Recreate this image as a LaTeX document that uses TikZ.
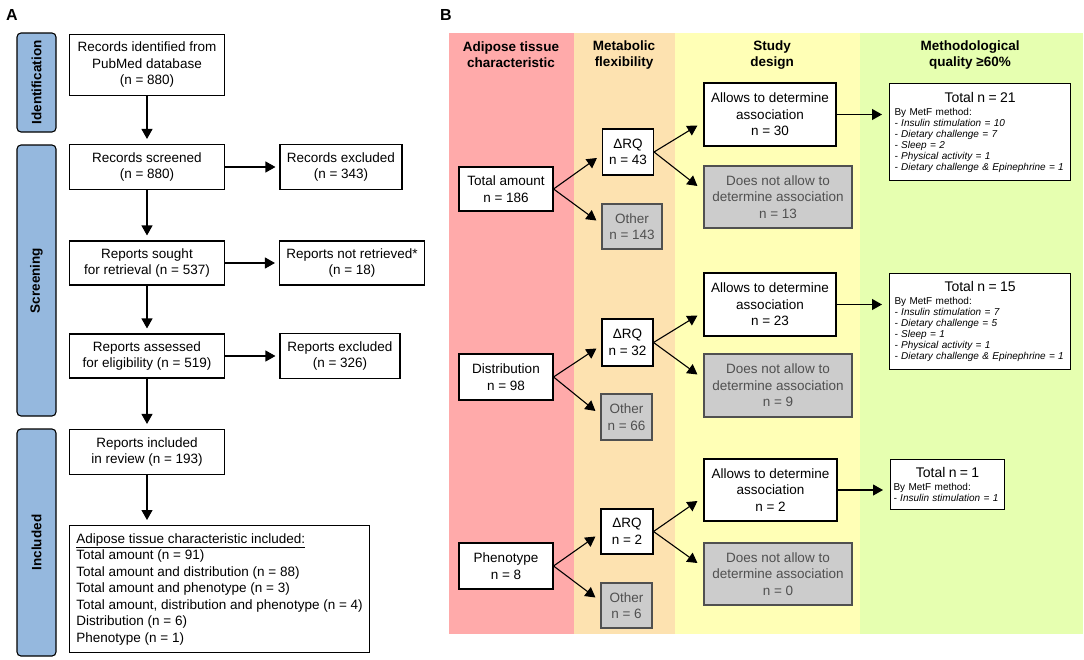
\documentclass[tikz,border=0pt]{standalone}
\usepackage{fontspec}
\setmainfont{Liberation Sans}
\usetikzlibrary{calc,arrows.meta}

\definecolor{phaseblue}{RGB}{149,184,222}
\definecolor{colred}{RGB}{255,170,170}
\definecolor{colorange}{RGB}{253,226,176}
\definecolor{colyellow}{RGB}{255,255,182}
\definecolor{colgreen}{RGB}{230,255,176}
\definecolor{boxgray}{RGB}{204,204,204}
\definecolor{textgray}{RGB}{80,80,80}

\begin{document}
\begin{tikzpicture}[x=1pt, y=-1pt,
    box/.style={draw, line width=1.1pt, fill=white, align=center, inner sep=2pt, font=\fontsize{13.5}{16.5}\selectfont},
    greybox/.style={box, draw=textgray, fill=boxgray, text=textgray},
    phase/.style={draw, line width=1.1pt, fill=phaseblue, rounded corners=4pt, rotate=90, font=\bfseries\fontsize{13.5}{16}\selectfont},
    head/.style={align=center, font=\bfseries\fontsize{13.5}{16}\selectfont},
    total/.style={draw, line width=1.1pt, fill=white, anchor=north west, align=left, inner xsep=5pt, inner ysep=3pt, font=\fontsize{10}{11}\selectfont},
    arr/.style={-{Triangle[length=10pt,width=11pt]}, line width=1.1pt},
    panel/.style={font=\bfseries\fontsize{16}{18}\selectfont}
  ]
    \useasboundingbox (0,0) rectangle (1084,659);

    \node[panel] (pa) at (12,15) {A};
    \node[panel] (pb) at (446,15) {B};

    \node[phase, minimum width=99pt, minimum height=39pt] (ident) at (36.5,82.5) {Identification};
    \node[phase, minimum width=271pt, minimum height=39pt] (screen) at (36.5,280.5) {Screening};
    \node[phase, minimum width=227pt, minimum height=39pt] (incl) at (36.5,542.5) {Included};

    \node[box, minimum width=155pt, minimum height=61pt] (rec) at (147,65) {Records identified from\\PubMed database\\(n = 880)};
    \node[box, minimum width=155pt, minimum height=45pt] (scr) at (147,167) {Records screened\\(n = 880)};
    \node[box, minimum width=122pt, minimum height=45pt] (exc1) at (341,167) {Records excluded\\(n = 343)};
    \node[box, minimum width=155pt, minimum height=44pt] (sought) at (147,263) {Reports sought\\for retrieval (n = 537)};
    \node[box, minimum width=145pt, minimum height=44pt] (notret) at (352,263) {Reports not retrieved*\\(n = 18)};
    \node[box, minimum width=155pt, minimum height=44pt] (assess) at (147,356) {Reports assessed\\for eligibility (n = 519)};
    \node[box, minimum width=120pt, minimum height=45pt] (exc2) at (340,356) {Reports excluded\\(n = 326)};
    \node[box, minimum width=155pt, minimum height=45pt] (rev) at (147,452) {Reports included\\in review (n = 193)};
    \node[box, anchor=north west, align=left, inner xsep=6pt, minimum width=300pt, minimum height=127pt] (list) at (69,525)
        {\underline{Adipose tissue characteristic included:}\\Total amount (n = 91)\\Total amount and distribution (n = 88)\\Total amount and phenotype (n = 3)\\Total amount, distribution and phenotype (n = 4)\\Distribution (n = 6)\\Phenotype (n = 1)};

    \draw[arr, shorten >=5pt] (rec) -- (scr);
    \draw[arr, shorten >=5pt] (scr) -- (sought);
    \draw[arr, shorten >=5pt] (sought) -- (assess);
    \draw[arr, shorten >=5pt] (assess) -- (rev);
    \draw[arr, shorten >=5pt] (rev.south) -- (rev.south |- list.north);
    \draw[arr, shorten >=4pt] (scr) -- (exc1);
    \draw[arr, shorten >=4pt] (sought) -- (notret);
    \draw[arr, shorten >=4pt] (assess) -- (exc2);

    \fill[colred] (449,33) rectangle (574,634);
    \fill[colorange] (574,33) rectangle (675,634);
    \fill[colyellow] (675,33) rectangle (860,634);
    \fill[colgreen] (860,33) rectangle (1083,634);

    \node[head] (h1) at (511,55) {Adipose tissue\\characteristic};
    \node[head] (h2) at (624,55) {Metabolic\\flexibility};
    \node[head] (h3) at (772,55) {Study\\design};
    \node[head] (h4) at (970,55) {Methodological\\quality ≥60\%};

    \node[box, minimum width=94pt, minimum height=44pt] (tot) at (506,189) {Total amount\\n = 186};
    \node[box, minimum width=51pt, minimum height=46pt] (rq1) at (628,152) {ΔRQ\\n = 43};
    \node[greybox, minimum width=60pt, minimum height=45pt] (oth1) at (632,226.5) {Other\\n = 143};
    \node[box, minimum width=132pt, minimum height=63pt] (al1) at (770,114.5) {Allows to determine\\association\\n = 30};
    \node[greybox, minimum width=148pt, minimum height=62pt] (dn1) at (778,197) {Does not allow to\\determine association\\n = 13};
    \node[total, text width=171pt, minimum height=97pt] (t1) at (889,83)
        {{\centering\fontsize{14}{16}\selectfont Total n = 21\par}\vspace{2pt}
         By MetF method:\\\textit{- Insulin stimulation = 10}\\\textit{- Dietary challenge = 7}\\\textit{- Sleep = 2}\\\textit{- Physical activity = 1}\\\textit{- Dietary challenge \& Epinephrine = 1}};

    \node[box, minimum width=94pt, minimum height=46pt] (dist) at (506,377) {Distribution\\n = 98};
    \node[box, minimum width=51pt, minimum height=47pt] (rq2) at (627.5,342.5) {ΔRQ\\n = 32};
    \node[greybox, minimum width=51pt, minimum height=46pt] (oth2) at (626.5,417) {Other\\n = 66};
    \node[box, minimum width=132pt, minimum height=63pt] (al2) at (770,304.5) {Allows to determine\\association\\n = 23};
    \node[greybox, minimum width=148pt, minimum height=63pt] (dn2) at (778,385.5) {Does not allow to\\determine association\\n = 9};
    \node[total, text width=171pt, minimum height=96pt] (t2) at (889,273)
        {{\centering\fontsize{14}{16}\selectfont Total n = 15\par}\vspace{2pt}
         By MetF method:\\\textit{- Insulin stimulation = 7}\\\textit{- Dietary challenge = 5}\\\textit{- Sleep = 1}\\\textit{- Physical activity = 1}\\\textit{- Dietary challenge \& Epinephrine = 1}};

    \node[box, minimum width=94pt, minimum height=46pt] (phen) at (506,566) {Phenotype\\n = 8};
    \node[box, minimum width=52pt, minimum height=45pt] (rq3) at (627,531.5) {ΔRQ\\n = 2};
    \node[greybox, minimum width=51pt, minimum height=45pt] (oth3) at (626.5,605.5) {Other\\n = 6};
    \node[box, minimum width=133pt, minimum height=62pt] (al3) at (770.5,490) {Allows to determine\\association\\n = 2};
    \node[greybox, minimum width=148pt, minimum height=62pt] (dn3) at (778,574) {Does not allow to\\determine association\\n = 0};
    \node[total, text width=108pt, inner xsep=3pt, minimum height=50pt] (t3) at (890,459)
        {{\centering\fontsize{14}{16}\selectfont Total n = 1\par}\vspace{2pt}
         By MetF method:\\\textit{- Insulin stimulation = 1}};

    \draw[arr] (tot.east) -- ($(rq1.west)+(-5,6)$);
    \draw[arr] (tot.east) -- ($(oth1.west)+(-5,-6)$);
    \draw[arr] (rq1.east) -- ($(al1.west)+(-6,11)$);
    \draw[arr] (rq1.east) -- ($(dn1.west)+(-6,-11)$);
    \draw[arr, shorten >=7pt] (al1.east) -- (al1.east -| t1.west);

    \draw[arr] (dist.east) -- ($(rq2.west)+(-5,6)$);
    \draw[arr] (dist.east) -- ($(oth2.west)+(-5,-6)$);
    \draw[arr] (rq2.east) -- ($(al2.west)+(-6,11)$);
    \draw[arr] (rq2.east) -- ($(dn2.west)+(-6,-11)$);
    \draw[arr, shorten >=7pt] (al2.east) -- (al2.east -| t2.west);

    \draw[arr] (phen.east) -- ($(rq3.west)+(-5,5)$);
    \draw[arr] (phen.east) -- ($(oth3.west)+(-5,-8)$);
    \draw[arr] (rq3.east) -- ($(al3.west)+(-6,11)$);
    \draw[arr] (rq3.east) -- ($(dn3.west)+(-6,-11)$);
    \draw[arr, shorten >=7pt] (al3.east) -- (al3.east -| t3.west);
\end{tikzpicture}
\end{document}
